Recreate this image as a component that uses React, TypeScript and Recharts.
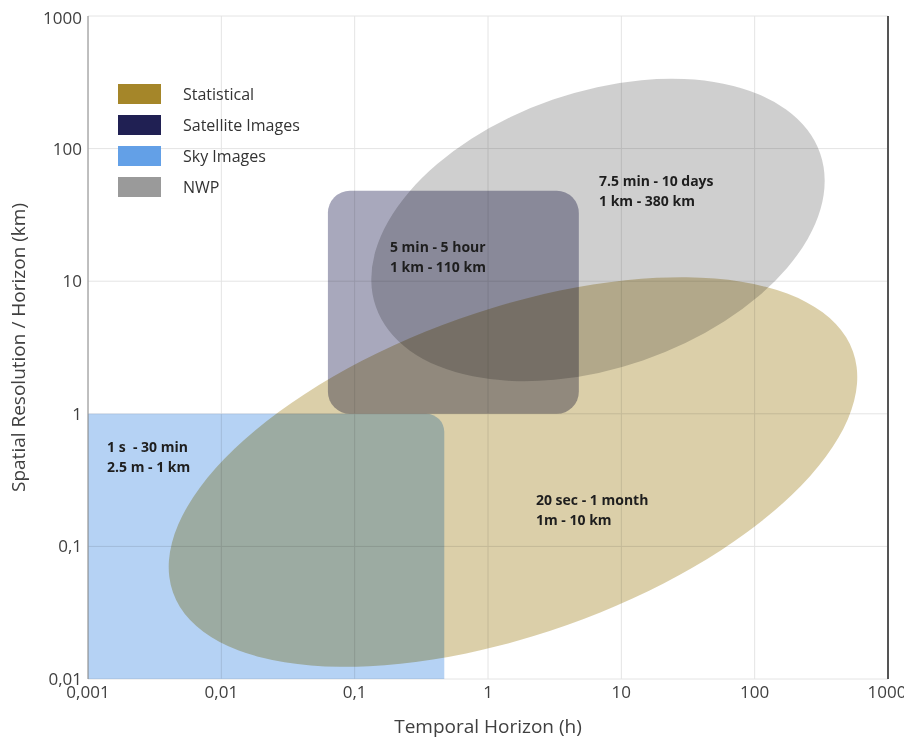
import React from "react";
import {
  ComposedChart,
  XAxis,
  YAxis,
  CartesianGrid,
  ReferenceArea,
  ReferenceLine,
  Scatter,
  Legend,
  Label,
} from "recharts";

// axis ticks (log decades)
const X_TICKS = [0.001, 0.01, 0.1, 1, 10, 100, 1000];
const Y_TICKS = [0.01, 0.1, 1, 10, 100, 1000];

const CATEGORIES = ["Statistical", "Satellite Images", "Sky Images", "NWP"];

// boxes: temporal horizon (h) x spatial range (km)
const BOX_REGIONS = [
  { name: "Sky Images", x1: 0.001, x2: 0.47, y1: 0.01, y2: 1 },
  { name: "Satellite Images", x1: 0.063, x2: 4.8, y1: 1, y2: 48 },
];

// ellipses: ends of the long axis + short/long axis ratio
const ELLIPSE_REGIONS = [
  { name: "NWP", x1: 0.144, y1: 6.44, x2: 310, y2: 91.8, ratio: 0.587 },
  { name: "Statistical", x1: 0.00434, y1: 0.0449, x2: 546, y2: 2.95, ratio: 0.45 },
];

const LABELS = [
  { x: 6.8, y: 57, lines: ["7.5 min - 10 days", "1 km - 380 km"] },
  { x: 0.184, y: 18.1, lines: ["5 min - 5 hour", "1 km - 110 km"] },
  { x: 0.00139, y: 0.562, lines: ["1 s  - 30 min", "2.5 m - 1 km"] },
  { x: 2.29, y: 0.224, lines: ["20 sec - 1 month", "1m - 10 km"] },
];

const COLORS: Record<string, string> = {
  Statistical: "#a0801e",
  "Satellite Images": "#14144a",
  "Sky Images": "#5b9be6",
  NWP: "#959595",
};

const OPACITY: Record<string, number> = {
  Statistical: 0.38,
  "Satellite Images": 0.37,
  "Sky Images": 0.45,
  NWP: 0.45,
};

const FONT = "'Open Sans', sans-serif";
const fmt = (v: number) => String(v).replace(".", ",");
const blend = { mixBlendMode: "multiply" as const };

function SkyShape(p: any) {
  const { x, y, width, height } = p;
  const r = 18;
  const d = `M${x},${y + height} L${x},${y} L${x + width - r},${y} A${r},${r} 0 0 1 ${x + width},${y + r} L${x + width},${y + height} Z`;
  return <path d={d} fill={COLORS["Sky Images"]} fillOpacity={OPACITY["Sky Images"]} style={blend} />;
}

function SatShape(p: any) {
  const { x, y, width, height } = p;
  return (
    <rect
      x={x}
      y={y}
      width={width}
      height={height}
      rx={22}
      ry={22}
      fill={COLORS["Satellite Images"]}
      fillOpacity={OPACITY["Satellite Images"]}
      style={blend}
    />
  );
}

function EllipseShape(p: any) {
  const { x, y, width, height, ratio, name } = p;
  const cx = x + width / 2;
  const cy = y + height / 2;
  const rx = Math.hypot(width, height) / 2;
  const ang = (-Math.atan2(height, width) * 180) / Math.PI;
  return (
    <ellipse
      cx={cx}
      cy={cy}
      rx={rx}
      ry={rx * ratio}
      transform={`rotate(${ang} ${cx} ${cy})`}
      fill={COLORS[name]}
      fillOpacity={OPACITY[name]}
      style={blend}
    />
  );
}

function LabelShape(p: any) {
  const { cx, cy, payload } = p;
  return (
    <text
      x={cx}
      y={cy}
      fontSize={14}
      fontWeight={700}
      fill="#1e1e1e"
      style={{ whiteSpace: "pre", fontFamily: FONT }}
    >
      <tspan x={cx} dy="0.35em">{payload.lines[0]}</tspan>
      <tspan x={cx} dy={20}>{payload.lines[1]}</tspan>
    </text>
  );
}

function LegendBox() {
  return (
    <div style={{ fontFamily: FONT }}>
      {CATEGORIES.map((c) => (
        <div key={c} style={{ display: "flex", alignItems: "center", height: 31 }}>
          <div style={{ width: 43, height: 20, backgroundColor: COLORS[c], opacity: 0.95 }} />
          <span style={{ marginLeft: 22, fontSize: 16, color: "#333" }}>{c}</span>
        </div>
      ))}
    </div>
  );
}

export default function App() {
  return (
    <div style={{ fontFamily: FONT }}>
      <style>{"svg.recharts-surface { overflow: visible; }"}</style>
      <ComposedChart width={896} height={732} margin={{ top: 8, right: 16, bottom: 8, left: 0 }}>
        <CartesianGrid stroke="#e4e4e4" />
        <XAxis
          dataKey="x"
          type="number"
          scale="log"
          domain={[0.001, 1000]}
          ticks={X_TICKS}
          tickFormatter={fmt}
          allowDataOverflow
          axisLine={false}
          tickLine={false}
          tickSize={4}
          tickMargin={3}
          height={53}
          tick={{ fontSize: 17, fill: "#404040" }}
        >
          <Label value="Temporal Horizon (h)" position="insideBottom" offset={-1} fontSize={19} fill="#404040" />
        </XAxis>
        <YAxis
          dataKey="y"
          type="number"
          scale="log"
          domain={[0.01, 1000]}
          ticks={Y_TICKS}
          tickFormatter={fmt}
          allowDataOverflow
          axisLine={{ stroke: "#8c8c8c" }}
          tickLine={false}
          tickSize={4}
          tickMargin={2}
          width={80}
          tick={{ fontSize: 17, fill: "#404040" }}
        >
          <Label
            value="Spatial Resolution / Horizon (km)"
            angle={-90}
            position="insideLeft"
            offset={10}
            fontSize={19}
            fill="#404040"
            style={{ textAnchor: "middle" }}
          />
        </YAxis>
        {BOX_REGIONS.map((r) => (
          <ReferenceArea
            key={r.name}
            x1={r.x1}
            x2={r.x2}
            y1={r.y1}
            y2={r.y2}
            ifOverflow="visible"
            shape={(p: any) => (r.name === "Sky Images" ? <SkyShape {...p} /> : <SatShape {...p} />)}
          />
        ))}
        {ELLIPSE_REGIONS.map((r) => (
          <ReferenceArea
            key={r.name}
            x1={r.x1}
            x2={r.x2}
            y1={r.y1}
            y2={r.y2}
            ifOverflow="visible"
            shape={(p: any) => <EllipseShape {...p} ratio={r.ratio} name={r.name} />}
          />
        ))}
        <ReferenceLine x={1000} stroke="#555" strokeWidth={2} ifOverflow="visible" />
        <Scatter data={LABELS} isAnimationActive={false} shape={(p: any) => <LabelShape {...p} />} />
        <Legend
          layout="vertical"
          align="center"
          verticalAlign="middle"
          wrapperStyle={{ left: 110, top: 70, width: 220 }}
          content={() => <LegendBox />}
        />
      </ComposedChart>
    </div>
  );
}
